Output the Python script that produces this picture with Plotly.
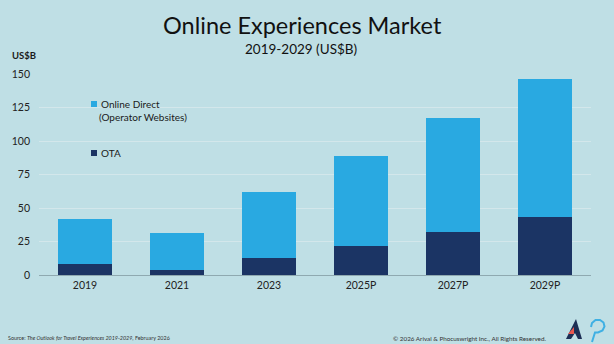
import plotly.graph_objects as go

# Market size by year, US$ billions
years = ["2019", "2021", "2023", "2025P", "2027P", "2029P"]
ota = [8, 4, 13, 22, 32, 43]
online_total = [42, 31, 62, 89, 117, 146]
online_direct = [t - o for t, o in zip(online_total, ota)]
y_ticks = [0, 25, 50, 75, 100, 125, 150]

BG = "#bfdfe5"
LIGHT = "#29a9e1"
DARK = "#1b3464"
TXT = "#1a1a1a"
FONT = "Lato"

W, H = 614, 344
L, R, T, B = 39, 23, 74, 69


def px(x):
    return (x - L) / (W - L - R)


def py(y):
    return (H - B - y) / (H - T - B)


fig = go.Figure()
fig.add_trace(go.Bar(x=years, y=ota, name="OTA", marker_color=DARK,
                     marker_line_width=0))
fig.add_trace(go.Bar(x=years, y=online_direct, name="Online Direct (Operator Websites)",
                     marker_color=LIGHT, marker_line_width=0))

fig.update_layout(
    width=W, height=H,
    margin=dict(l=L, r=R, t=T, b=B),
    barmode="stack", bargap=0.41,
    paper_bgcolor=BG, plot_bgcolor=BG,
    showlegend=False,
    font=dict(family=FONT, color=TXT, size=10),
    xaxis=dict(showgrid=False, showline=True, linecolor="#8fa9b0", linewidth=1,
               ticks="", tickfont=dict(size=10.5, color="#222")),
    yaxis=dict(range=[0, 150], tickvals=y_ticks, showgrid=True,
               gridcolor="#d3e7eb", gridwidth=1, zeroline=False,
               ticks="", ticklabelstandoff=8,
               tickfont=dict(size=10.5, color="#222")),
)

annotations = []
# text placed by page pixel position
for text, x, y, size, anchor, color in [
    ("Online Experiences Market", 302, 25, 23.5, "center", "#111"),
    ("2019-2029 (US$B)", 301, 49, 13.5, "center", "#111"),
    ("<b>US$B</b>", 10, 56, 9.5, "left", TXT),
    ("Online Direct", 99, 104, 10, "left", TXT),
    ("(Operator Websites)", 97, 117, 10, "left", TXT),
    ("OTA", 99, 153, 10, "left", TXT),
    ("Source: <i>The Outlook for Travel Experiences 2019-2029</i>, February 2026", 6, 338, 5.4, "left", "#333"),
    ("© 2026 Arival & Phocuswright Inc., All Rights Reserved.", 548, 338, 6.3, "right", "#333"),
]:
    annotations.append(dict(text=text, x=px(x), y=py(y), xref="paper", yref="paper",
                            showarrow=False, xanchor=anchor, yanchor="middle",
                            font=dict(size=size, color=color)))
fig.update_layout(annotations=annotations)

shapes = [
    # legend swatches
    dict(type="rect", xref="paper", yref="paper", x0=px(91), x1=px(97), y0=py(101), y1=py(107),
         fillcolor=LIGHT, line_width=0),
    dict(type="rect", xref="paper", yref="paper", x0=px(91), x1=px(97), y0=py(150), y1=py(156),
         fillcolor=DARK, line_width=0),
]


def path(points):
    return "M " + " L ".join(f"{px(x):.5f},{py(y):.5f}" for x, y in points) + " Z"


# brand mark: "A" with coral accent and speech-bubble "P"
shapes.append(dict(type="path", xref="paper", yref="paper",
                   path=path([(566, 339), (576, 319), (582, 339), (578, 339), (575, 333), (571, 339)]),
                   fillcolor="#1d2f55", line_width=0))
shapes.append(dict(type="path", xref="paper", yref="paper",
                   path=path([(568, 334), (574, 327), (574, 334)]),
                   fillcolor="#e8574f", line_width=0))
bubble = [(591, 327), (592, 323), (595.5, 320), (600, 320), (603.5, 322.5), (604.5, 326.5),
          (602.5, 330.5), (598, 332.5), (595, 332.5), (592, 342)]
shapes.append(dict(type="path", xref="paper", yref="paper",
                   path="M " + " L ".join(f"{px(x):.5f},{py(y):.5f}" for x, y in bubble),
                   fillcolor="rgba(0,0,0,0)", line=dict(color="#3fb0e3", width=2)))
fig.update_layout(shapes=shapes)

fig.write_html("out.html")
